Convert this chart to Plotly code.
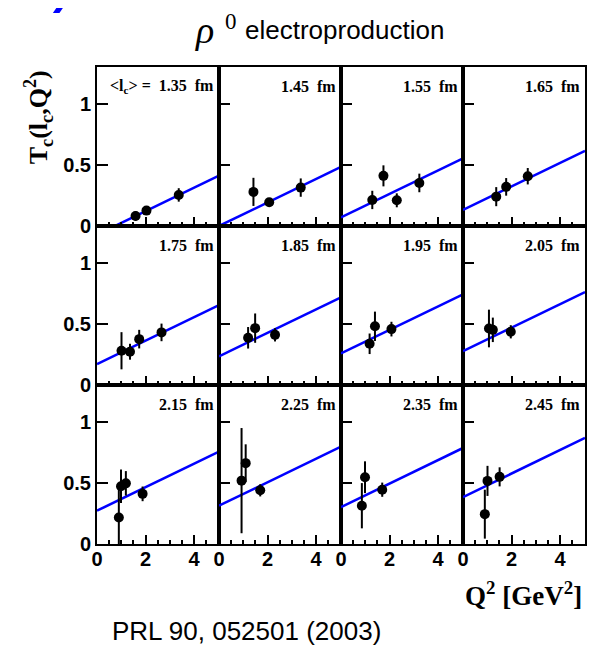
import plotly.graph_objects as go
from plotly.subplots import make_subplots

# ---- data -----------------------------------------------------------
lc_labels = ["1.35", "1.45", "1.55", "1.65", "1.75", "1.85",
             "1.95", "2.05", "2.15", "2.25", "2.35", "2.45"]

q2_vals = [
    [1.59, 2.04, 3.37],
    [1.42, 2.07, 3.37],
    [1.29, 1.75, 2.30, 3.23],
    [1.37, 1.78, 2.67],
    [1.01, 1.36, 1.74, 2.66],
    [1.20, 1.49, 2.31],
    [1.18, 1.40, 2.08],
    [1.07, 1.23, 1.97],
    [0.90, 0.99, 1.19, 1.88],
    [0.93, 1.10, 1.70],
    [0.86, 0.99, 1.70],
    [0.90, 1.01, 1.51],
]
tc_vals = [
    [0.082, 0.126, 0.254],
    [0.279, 0.194, 0.314],
    [0.213, 0.410, 0.210, 0.352],
    [0.240, 0.320, 0.407],
    [0.280, 0.272, 0.375, 0.430],
    [0.386, 0.465, 0.410],
    [0.337, 0.480, 0.457],
    [0.462, 0.451, 0.435],
    [0.217, 0.472, 0.496, 0.410],
    [0.518, 0.661, 0.439],
    [0.313, 0.546, 0.444],
    [0.244, 0.516, 0.549],
]
tc_errs = [
    [0.040, 0.030, 0.055],
    [0.115, 0.030, 0.075],
    [0.075, 0.086, 0.057, 0.076],
    [0.078, 0.072, 0.067],
    [0.152, 0.065, 0.076, 0.072],
    [0.088, 0.120, 0.054],
    [0.084, 0.120, 0.060],
    [0.154, 0.100, 0.054],
    [0.250, 0.137, 0.100, 0.060],
    [0.430, 0.154, 0.050],
    [0.185, 0.130, 0.058],
    [0.200, 0.123, 0.078],
]
fit_intercepts = [-0.071, 0.000, 0.071, 0.131, 0.171, 0.234,
                  0.259, 0.277, 0.272, 0.313, 0.302, 0.384]
fit_slopes = [0.096] * 12

x_range = [0, 5.03]
y_range = [0, 1.3]

# ---- figure ---------------------------------------------------------
OFF = 8                      # page offset of the plot div (body margin)
W, H = 599 - OFF, 653 - OFF
L, R, T, B = 97 - OFF, 12, 67 - OFF, 109
PW, PH = W - L - R, H - T - B


def px(x):
    """page pixel x -> paper x"""
    return (x - OFF - L) / PW


def py(y):
    """page pixel y -> paper y"""
    return (H - B - (y - OFF)) / PH


fig = make_subplots(rows=3, cols=4, horizontal_spacing=0, vertical_spacing=0)

serif = "Liberation Serif, Times New Roman, serif"
sans = "Liberation Sans, Arial, Helvetica, sans-serif"

for i in range(12):
    r, c = i // 4 + 1, i % 4 + 1
    a, b = fit_intercepts[i], fit_slopes[i]
    fig.add_trace(go.Scatter(
        x=x_range, y=[a + b * x_range[0], a + b * x_range[1]],
        mode="lines", line=dict(color="#0000ff", width=2.5),
        showlegend=False, hoverinfo="skip"), row=r, col=c)
    fig.add_trace(go.Scatter(
        x=q2_vals[i], y=tc_vals[i], mode="markers",
        marker=dict(color="black", size=10),
        error_y=dict(type="data", array=tc_errs[i], color="black",
                     thickness=2, width=0),
        showlegend=False), row=r, col=c)

    fig.update_xaxes(range=x_range, showline=True, linecolor="black",
                     linewidth=2, mirror=True, showgrid=False, zeroline=False,
                     ticks="inside", tickmode="linear", tick0=0, dtick=2,
                     ticklen=9, tickwidth=1.5, tickcolor="black",
                     minor=dict(tickmode="linear", tick0=0, dtick=0.5,
                                ticks="inside", ticklen=4.5, tickwidth=1.5,
                                tickcolor="black", showgrid=False),
                     showticklabels=(r == 3), ticklabelstandoff=-4,
                     tickfont=dict(family=sans, size=20, color="black",
                                   weight="bold"),
                     row=r, col=c)
    fig.update_yaxes(range=y_range, showline=True, linecolor="black",
                     linewidth=2, mirror=True, showgrid=False, zeroline=False,
                     ticks="inside", tickvals=[0, 0.5, 1],
                     ticktext=["0", "0.5", "1"], ticklen=11,
                     tickwidth=1.5, tickcolor="black",
                     showticklabels=(c == 1),
                     tickfont=dict(family=sans, size=20, color="black",
                                   weight="bold"),
                     row=r, col=c)

    xname = "x" if i == 0 else f"x{i + 1}"
    yname = "y" if i == 0 else f"y{i + 1}"
    if i == 0:
        label = ("&lt;l<sub>c</sub>&gt; =&nbsp;&nbsp;" + lc_labels[i]
                 + "&nbsp;&nbsp;fm")
    else:
        label = lc_labels[i] + "&nbsp;&nbsp;fm"
    fig.add_annotation(x=0.975, y=0.876, xref=f"{xname} domain",
                       yref=f"{yname} domain", text=label, showarrow=False,
                       xanchor="right", yanchor="middle",
                       font=dict(family=serif, size=16, color="black",
                                 weight="bold"))

# title: rho^0 electroproduction
fig.add_annotation(x=px(194), y=1 + T / PH, xref="paper", yref="paper",
                   text="<i>ρ</i>", showarrow=False,
                   xanchor="left", yanchor="top", borderpad=0,
                   font=dict(family=serif, size=38, color="black"))
fig.add_annotation(x=px(225), y=1 + T / PH, xref="paper", yref="paper",
                   text="0", showarrow=False,
                   xanchor="left", yanchor="top", borderpad=0,
                   font=dict(family=serif, size=23, color="black"))
fig.add_annotation(x=px(244), y=py(30), xref="paper", yref="paper",
                   text="electroproduction", showarrow=False,
                   xanchor="left", yanchor="middle",
                   font=dict(family=sans, size=26, color="black"))
# y axis title
fig.add_annotation(x=px(38), y=py(117), xref="paper", yref="paper",
                   text="T<sub>c</sub>(l<sub>c</sub>,Q<sup>2</sup>)",
                   textangle=-90, showarrow=False, xanchor="center",
                   yanchor="middle",
                   font=dict(family=serif, size=26, color="black",
                             weight="bold"))
# x axis title
fig.add_annotation(x=px(586), y=py(594), xref="paper", yref="paper",
                   text="Q<sup>2</sup> [GeV<sup>2</sup>]", showarrow=False,
                   xanchor="right", yanchor="middle",
                   font=dict(family=serif, size=27, color="black",
                             weight="bold"))
# reference
fig.add_annotation(x=px(110), y=py(631), xref="paper", yref="paper",
                   text="PRL 90, 052501 (2003)", showarrow=False,
                   xanchor="left", yanchor="middle",
                   font=dict(family=sans, size=26, color="black"))

# blue fragment at the top-left corner
fig.add_shape(type="path", xref="paper", yref="paper",
              path=(f"M {px(61.7)} {py(0)} L {px(68.3)} {py(0)} "
                    f"L {px(59.3)} {py(13)} L {px(52.7)} {py(13)} Z"),
              fillcolor="#0000ff", line=dict(width=0), layer="above")

fig.update_layout(width=W, height=H,
                  margin=dict(l=L, r=R, t=T, b=B),
                  plot_bgcolor="white", paper_bgcolor="white")

fig.write_html("out.html")
